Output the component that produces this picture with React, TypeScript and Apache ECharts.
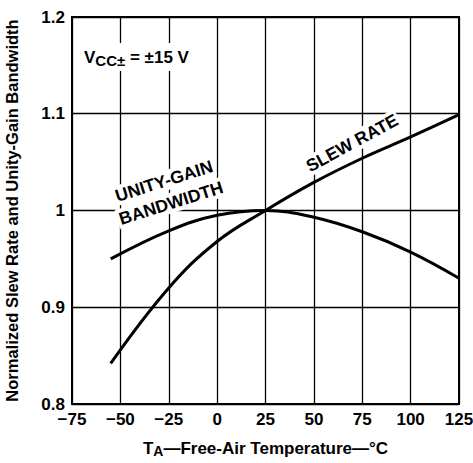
import React, { useEffect, useRef } from "react";
import * as echarts from "echarts";

const temps = [-55, -25, 0, 25, 50, 75, 100, 125];
const slewRate = [0.842, 0.92, 0.968, 1.0, 1.029, 1.054, 1.076, 1.099];
const unityGainBw = [0.95, 0.979, 0.995, 1.0, 0.993, 0.978, 0.957, 0.93];
const xTicks = [-75, -50, -25, 0, 25, 50, 75, 100, 125];
const yTicks = [0.8, 0.9, 1.0, 1.1, 1.2];

const FONT = "Liberation Sans";

export default function App() {
  const ref = useRef<HTMLDivElement>(null);
  useEffect(() => {
    document.body.style.margin = "0";
    const chart = echarts.init(ref.current!, null, { renderer: "svg" });
    const toPairs = (ys: number[]) => temps.map((t, i) => [t, ys[i]]);
    const labelText = (text: string, x: number, y: number, deg: number) => ({
      type: "text",
      x,
      y,
      rotation: (deg * Math.PI) / 180,
      style: {
        text,
        align: "center",
        verticalAlign: "middle",
        fontFamily: FONT,
        fontWeight: "bold",
        fontSize: 17.5,
        fill: "#000",
        backgroundColor: "#fff",
        padding: [1, 2, 1, 2],
      },
      z: 20,
    });
    chart.setOption({
      animation: false,
      backgroundColor: "#fff",
      grid: {
        left: 72,
        right: 14,
        top: 17,
        bottom: 59,
        show: true,
        borderColor: "#000",
        borderWidth: 2,
        outerBoundsMode: "none",
        containLabel: false,
      },
      xAxis: {
        type: "value",
        min: xTicks[0],
        max: xTicks[xTicks.length - 1],
        interval: 25,
        axisLine: { show: false },
        axisTick: { show: false },
        splitLine: { show: true, lineStyle: { color: "#000", width: 1.3 } },
        axisLabel: {
          color: "#000",
          fontFamily: FONT,
          fontWeight: "bold",
          fontSize: 17,
          margin: 7,
          formatter: (v: number) => (v < 0 ? "\u2212" + Math.abs(v) : String(v)),
        },
        name: "{t|T}{s|A}{t|\u2014Free-Air Temperature\u2014\u00B0C}",
        nameLocation: "middle",
        nameGap: 34,
        nameTextStyle: {
          color: "#000",
          rich: {
            t: { fontFamily: FONT, fontWeight: "bold", fontSize: 17, color: "#000", lineHeight: 20 },
            s: { fontFamily: FONT, fontWeight: "bold", fontSize: 14, color: "#000", lineHeight: 20, padding: [6, 0, 0, 0] },
          },
        },
      },
      yAxis: {
        type: "value",
        min: yTicks[0],
        max: yTicks[yTicks.length - 1],
        interval: 0.1,
        axisLine: { show: false },
        axisTick: { show: false },
        splitLine: { show: true, lineStyle: { color: "#000", width: 1.3 } },
        axisLabel: {
          color: "#000",
          fontFamily: FONT,
          fontWeight: "bold",
          fontSize: 17,
          margin: 7,
          formatter: (v: number) => {
            const r = Math.round(v * 10) / 10;
            return r === 1 ? "1" : r.toFixed(1);
          },
        },
        name: "Normalized Slew Rate and Unity-Gain Bandwidth",
        nameLocation: "middle",
        nameGap: 52,
        nameTextStyle: { color: "#000", fontFamily: FONT, fontWeight: "bold", fontSize: 16.5 },
      },
      series: [
        {
          name: "Slew Rate",
          type: "line",
          smooth: 0.4,
          symbol: "none",
          data: toPairs(slewRate),
          lineStyle: { color: "#000", width: 3 },
          z: 5,
        },
        {
          name: "Unity-Gain Bandwidth",
          type: "line",
          smooth: 0.4,
          symbol: "none",
          data: toPairs(unityGainBw),
          lineStyle: { color: "#000", width: 3 },
          z: 5,
        },
      ],
      graphic: [
        {
          type: "text",
          x: 265,
          y: 0,
          style: {
            text: "vs FREE-AIR TEMPERATURE",
            align: "center",
            verticalAlign: "bottom",
            fontFamily: FONT,
            fontWeight: "bold",
            fontSize: 15,
            fill: "#000",
          },
          z: 20,
        },
        {
          type: "text",
          x: 82,
          y: 57,
          style: {
            text: "{v|V}{s|CC\u00B1}{v| = \u00B115 V}",
            verticalAlign: "middle",
            backgroundColor: "#fff",
            padding: [3, 2, 3, 2],
            rich: {
              v: { fontFamily: FONT, fontWeight: "bold", fontSize: 17, fill: "#000" },
              s: { fontFamily: FONT, fontWeight: "bold", fontSize: 15, fill: "#000", padding: [7, 0, 0, 0] },
            },
          },
          z: 20,
        },
        labelText("UNITY-GAIN", 164, 181, 17.5),
        labelText("BANDWIDTH", 171, 203, 17.5),
        labelText("SLEW RATE", 352, 143, 28.5),
      ],
    });
    return () => chart.dispose();
  }, []);
  return <div ref={ref} style={{ width: 473, height: 463 }} />;
}
